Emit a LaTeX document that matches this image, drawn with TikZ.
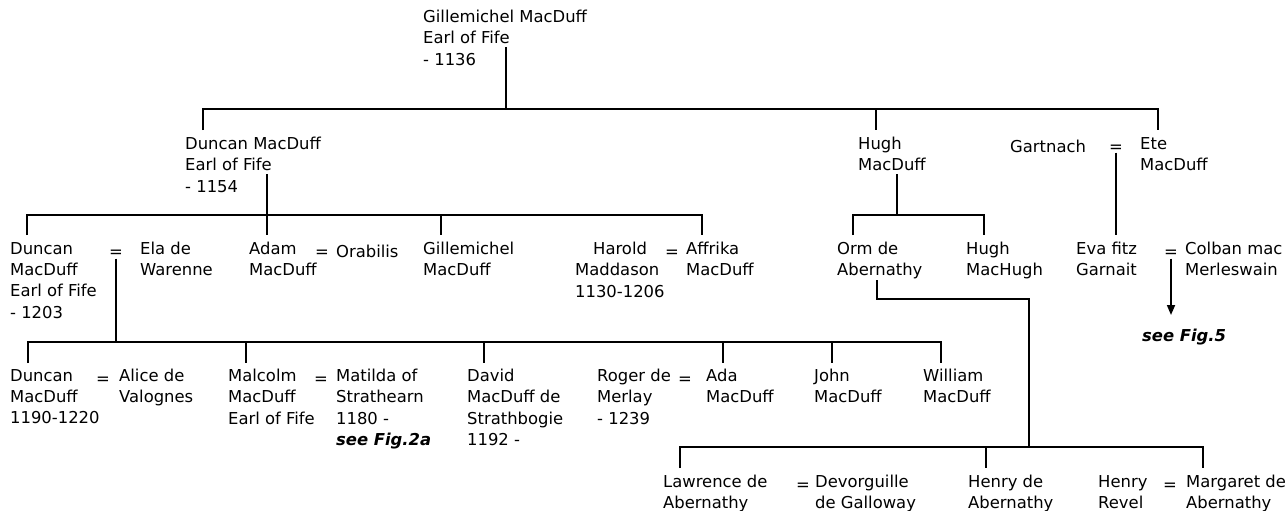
\documentclass[tikz,border=0pt]{standalone}
\usepackage{fontspec}
\setmainfont{DejaVu Sans}
\usetikzlibrary{arrows.meta}
\begin{document}
\begin{tikzpicture}[x=1pt,y=-1pt,
  person/.style={anchor=north west, inner sep=0pt, align=left,
    font=\fontsize{16.4}{21.3}\selectfont, execute at begin node=\strut},
  eqs/.style={anchor=north, inner sep=0pt,
    font=\fontsize{16.4}{21.3}\selectfont, execute at begin node=\strut},
  seefig/.style={person, font=\fontsize{16.4}{21.3}\selectfont\bfseries\itshape},
  link/.style={line width=1.7pt, draw=black},
  tip/.style={-{Triangle[length=10pt,width=8pt]}}]
\useasboundingbox[fill=white] (0,0) rectangle (1288,511);

% generation 0
\node[person] (gm0) at (423,10) {Gillemichel MacDuff\\Earl of Fife\\- 1136};

% generation 1
\node[person] (d1154) at (185,137) {Duncan MacDuff\\Earl of Fife\\- 1154};
\node[person] (hugh) at (858,137) {Hugh\\MacDuff};
\node[person] (gart) at (1010,137) {Gartnach};
\node[eqs] (eqGE) at (1116,137) {=};
\node[person] (ete) at (1140,137) {Ete\\MacDuff};

% generation 2
\node[person] (d1203) at (10,242) {Duncan\\MacDuff\\Earl of Fife\\- 1203};
\node[eqs] (eqA) at (116,242) {=};
\node[person] (ela) at (140,242) {Ela de\\Warenne};
\node[person] (adam) at (249,242) {Adam\\MacDuff};
\node[eqs] (eqB) at (322,242) {=};
\node[person] (orab) at (336,242) {Orabilis};
\node[person] (gm2) at (423,242) {Gillemichel\\MacDuff};
\node[person] (harold) at (575,242) {\hspace*{18pt}Harold\\Maddason\\1130-1206};
\node[eqs] (eqC) at (672,242) {=};
\node[person] (affrika) at (686,242) {Affrika\\MacDuff};
\node[person] (orm) at (837,242) {Orm de\\Abernathy};
\node[person] (hmh) at (966,242) {Hugh\\MacHugh};
\node[person] (eva) at (1076,242) {Eva fitz\\Garnait};
\node[eqs] (eqD) at (1171,242) {=};
\node[person] (colban) at (1185,242) {Colban mac\\Merleswain};
\node[seefig] (fig5) at (1142,326) {see Fig.5};

% generation 3
\node[person] (d1190) at (10,369) {Duncan\\MacDuff\\1190-1220};
\node[eqs] (eqE) at (103,369) {=};
\node[person] (alice) at (119,369) {Alice de\\Valognes};
\node[person] (malc) at (228,369) {Malcolm\\MacDuff\\Earl of Fife};
\node[eqs] (eqF) at (321,369) {=};
\node[person] (matilda) at (336,369) {Matilda of\\Strathearn\\1180 -\\\textbf{\textit{see Fig.2a}}};
\node[person] (david) at (467,369) {David\\MacDuff de\\Strathbogie\\1192 -};
\node[person] (roger) at (597,369) {Roger de\\Merlay\\- 1239};
\node[eqs] (eqG) at (685,369) {=};
\node[person] (ada) at (706,369) {Ada\\MacDuff};
\node[person] (john) at (814,369) {John\\MacDuff};
\node[person] (will) at (923,369) {William\\MacDuff};

% generation 4
\node[person] (law) at (663,475) {Lawrence de\\Abernathy};
\node[eqs] (eqH) at (803,475) {=};
\node[person] (dev) at (815,475) {Devorguille\\de Galloway};
\node[person] (henry) at (968,475) {Henry de\\Abernathy};
\node[person] (revel) at (1098,475) {Henry\\Revel};
\node[eqs] (eqI) at (1170,475) {=};
\node[person] (marg) at (1186,475) {Margaret de\\Abernathy};

% junction coordinates
\coordinate (f0) at (506,47);
\coordinate (j1) at (506,109);
\coordinate (f1) at (267,174);
\coordinate (j2) at (267,215);
\coordinate (f2) at (897,174);
\coordinate (j4) at (897,215);
\coordinate (j3) at (116,342);
\coordinate (f3) at (877,280);
\coordinate (k1) at (1029,299);
\coordinate (j5) at (1029,447);

% connectors
\draw[link] (f0) -- (j1);
\draw[link] ([xshift=18pt,yshift=7pt]d1154.north west) |- (j1) -| ([xshift=18pt,yshift=7pt]ete.north west);
\draw[link] (j1) -| ([xshift=18pt,yshift=7pt]hugh.north west);

\draw[link] (f1) -- ([xshift=18pt,yshift=7pt]adam.north west);
\draw[link] ([xshift=17pt,yshift=7pt]d1203.north west) |- (j2) -| ([xshift=16pt,yshift=7pt]affrika.north west);
\draw[link] (j2) -| ([xshift=18pt,yshift=7pt]gm2.north west);

\draw[link] (f2) -- (j4);
\draw[link] ([xshift=16pt,yshift=7pt]orm.north west) |- (j4) -| ([xshift=18pt,yshift=7pt]hmh.north west);

\draw[link] ([yshift=6pt]eqGE.south) -- ([xshift=40pt,yshift=7pt]eva.north west);

\draw[link] ([yshift=5pt]eqA.south) -- (eqA.south |- j3);
\draw[link] ([xshift=18pt,yshift=6pt]d1190.north west) |- (j3) -| ([xshift=18pt,yshift=6pt]will.north west);
\draw[link] (j3) -| ([xshift=18pt,yshift=6pt]malc.north west);
\draw[link] (j3) -| ([xshift=17pt,yshift=6pt]david.north west);
\draw[link] (j3) -| ([xshift=17pt,yshift=6pt]ada.north west);
\draw[link] (j3) -| ([xshift=18pt,yshift=6pt]john.north west);

\draw[link] (f3) |- (k1) -- (j5);
\draw[link] ([xshift=17pt,yshift=7pt]law.north west) |- (j5) -| ([xshift=17pt,yshift=7pt]marg.north west);
\draw[link] (j5) -| ([xshift=18pt,yshift=7pt]henry.north west);

\draw[link,tip] ([yshift=5pt]eqD.south) -- ([xshift=29pt,yshift=11pt]fig5.north west);
\end{tikzpicture}
\end{document}
